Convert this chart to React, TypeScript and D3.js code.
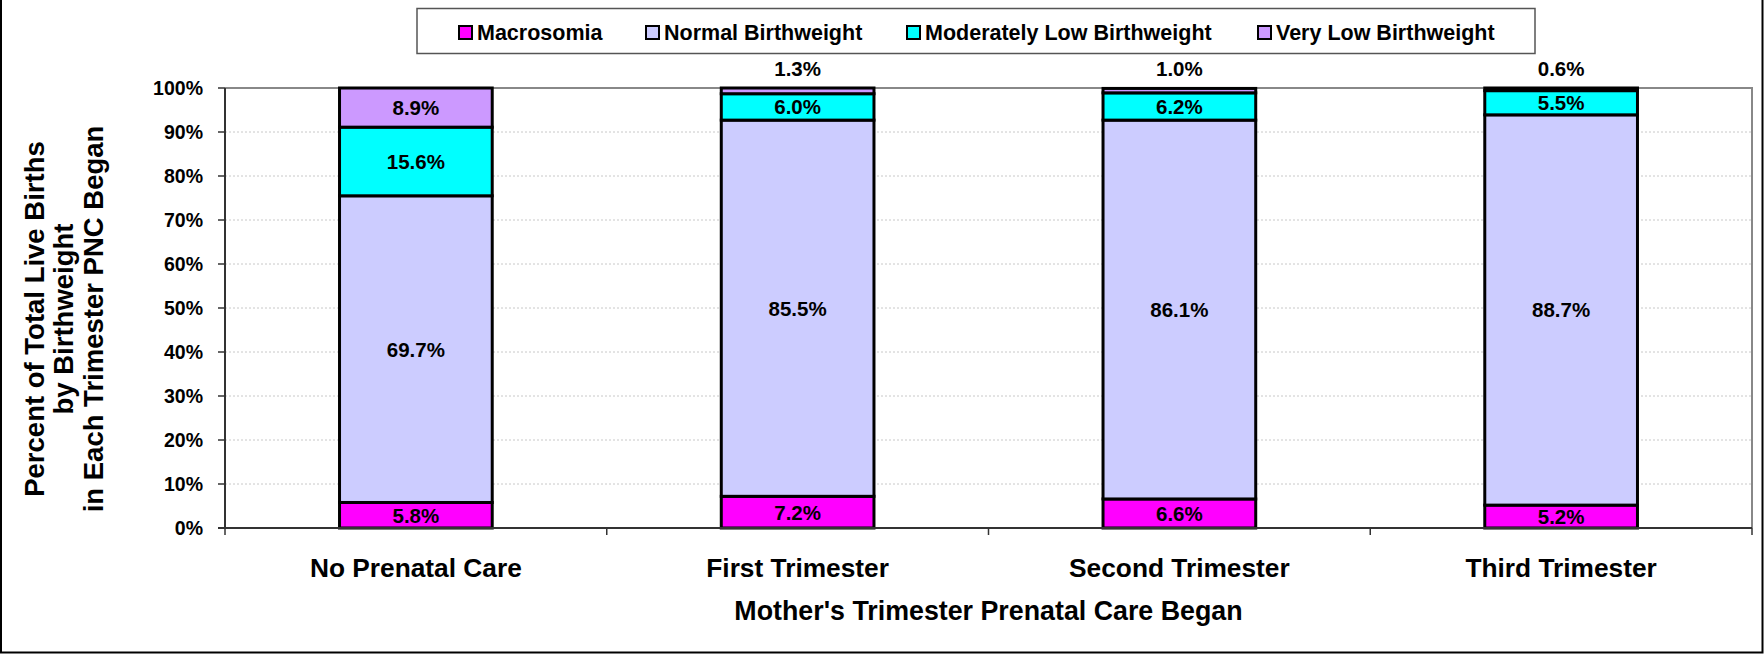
import React from "react";
import * as d3 from "d3";

const categories = ["No Prenatal Care", "First Trimester", "Second Trimester", "Third Trimester"];
const seriesNames = ["Macrosomia", "Normal Birthweight", "Moderately Low Birthweight", "Very Low Birthweight"];
const seriesColors = ["#FF00FF", "#CCCCFF", "#00FFFF", "#CC99FF"];
const macrosomia = [5.8, 7.2, 6.6, 5.2];
const normalBw = [69.7, 85.5, 86.1, 88.7];
const modLowBw = [15.6, 6.0, 6.2, 5.5];
const veryLowBw = [8.9, 1.3, 1.0, 0.6];
const yTicks = [0, 10, 20, 30, 40, 50, 60, 70, 80, 90, 100];
const yTitleLines = ["Percent of Total Live Births", "by Birthweight", "in Each Trimester PNC Began"];
const xTitle = "Mother's Trimester Prenatal Care Began";

const W = 1764;
const H = 654;
const FONT = "'Liberation Sans', Arial, Helvetica, sans-serif";

export default function App() {
  const left = 225, right = 1752, top = 88, bottom = 528;
  const x = d3.scaleBand<string>().domain(categories).range([left, right]).paddingInner(0.6).paddingOuter(0.3);
  const y = d3.scaleLinear().domain([0, 100]).range([bottom, top]);
  const step = x.step();
  const series = [macrosomia, normalBw, modLowBw, veryLowBw];
  const rows = categories.map((c, i) => {
    const r: any = { cat: c };
    seriesNames.forEach((s, j) => (r[s] = series[j][i]));
    return r;
  });
  const stacked = d3.stack<any>().keys(seriesNames)(rows);
  const fmt = (v: number) => d3.format(".1f")(v) + "%";

  const legendX = [459, 646, 907, 1258];

  return (
    <svg width={W} height={H} style={{ position: "absolute", left: 0, top: 0, background: "#fff" }} fontFamily={FONT}>
      <rect x={0} y={0} width={W} height={H} fill="#fff" />
      {/* outer frame */}
      <path d={`M1,0 V${H - 1.5} H${W - 1.5} V0`} fill="none" stroke="#000" strokeWidth={2} />

      {/* gridlines */}
      {yTicks.filter((t) => t > 0 && t < 100).map((t) => (
        <line key={t} x1={left} x2={right} y1={y(t)} y2={y(t)} stroke="#c8c8c8" strokeWidth={1} strokeDasharray="2,2" />
      ))}
      {/* plot border top/right */}
      <path d={`M${left},${y(100)} H${right} V${bottom}`} fill="none" stroke="#888" strokeWidth={2} />

      {/* bars */}
      {stacked.map((layer, j) => (
        <g key={seriesNames[j]}>
          {layer.map((d, i) => (
            <rect
              key={i}
              x={x(categories[i])!}
              width={x.bandwidth()}
              y={y(d[1])}
              height={y(d[0]) - y(d[1])}
              fill={seriesColors[j]}
              stroke="#000"
              strokeWidth={3}
            />
          ))}
        </g>
      ))}

      {/* axes */}
      <line x1={left} x2={left} y1={top} y2={bottom} stroke="#333" strokeWidth={2} />
      <line x1={left - 7} x2={right} y1={bottom} y2={bottom} stroke="#333" strokeWidth={2} />
      {yTicks.map((t) => (
        <g key={t}>
          <line x1={left - 7} x2={left} y1={y(t)} y2={y(t)} stroke="#333" strokeWidth={1.5} />
          <text x={203} y={y(t)} dy="0.36em" textAnchor="end" fontSize={19.5} fontWeight="bold">
            {t}%
          </text>
        </g>
      ))}
      {d3.range(categories.length + 1).map((k) => (
        <line key={k} x1={left + k * step} x2={left + k * step} y1={bottom} y2={bottom + 7} stroke="#333" strokeWidth={1.5} />
      ))}

      {/* data labels */}
      {stacked.map((layer, j) =>
        layer.map((d, i) => {
          const v = series[j][i];
          const cx = x(categories[i])! + x.bandwidth() / 2;
          const small = v < 2;
          const cy = small ? y(100) - 19 : (y(d[0]) + y(d[1])) / 2;
          return (
            <text key={`${j}-${i}`} x={cx} y={cy} dy="0.36em" textAnchor="middle" fontSize={20.5} fontWeight="bold">
              {fmt(v)}
            </text>
          );
        })
      )}

      {/* category labels */}
      {categories.map((c) => (
        <text key={c} x={x(c)! + x.bandwidth() / 2} y={577} textAnchor="middle" fontSize={26.3} fontWeight="bold">
          {c}
        </text>
      ))}

      {/* x title */}
      <text x={(left + right) / 2} y={620} textAnchor="middle" fontSize={26.8} fontWeight="bold">
        {xTitle}
      </text>

      {/* y title */}
      {yTitleLines.map((l, k) => (
        <text
          key={k}
          transform={`translate(${34 + k * 29.5},${319}) rotate(-90)`}
          dy="0.36em"
          textAnchor="middle"
          fontSize={27.5}
          fontWeight="bold"
        >
          {l}
        </text>
      ))}

      {/* legend */}
      <rect x={417} y={8.5} width={1118} height={45} fill="#fff" stroke="#555" strokeWidth={1.5} />
      {seriesNames.map((s, j) => (
        <g key={s} transform={`translate(${legendX[j]},0)`}>
          <rect x={0} y={26} width={13} height={13} fill={seriesColors[j]} stroke="#000" strokeWidth={2} />
          <text x={18} y={40} fontSize={21.5} fontWeight="bold">
            {s}
          </text>
        </g>
      ))}
    </svg>
  );
}
